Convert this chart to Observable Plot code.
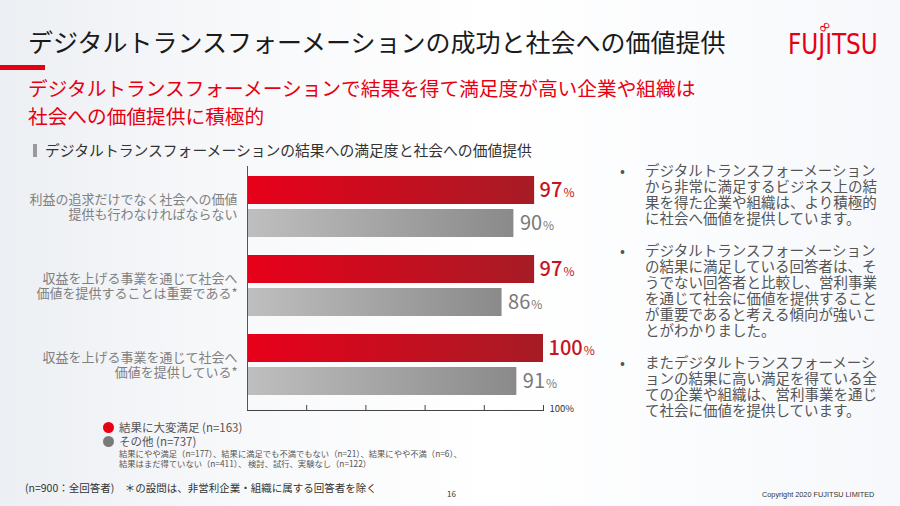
<!DOCTYPE html>
<html lang="ja">
<head>
<meta charset="utf-8">
<script src="https://cdn.jsdelivr.net/npm/d3@7"></script>
<script src="https://cdn.jsdelivr.net/npm/@observablehq/plot@0.6"></script>
<style>
  html, body { margin: 0; padding: 0; }
  body { width: 900px; height: 506px; overflow: hidden; font-family: "Noto Sans CJK JP", "Noto Sans", sans-serif; }
  #slide { position: relative; width: 900px; height: 506px; overflow: hidden;
    background: linear-gradient(90deg, #eceff3 0%, #f7f8fa 25%, #ffffff 55%, #f6f8fb 100%); }
  .abs { position: absolute; white-space: nowrap; }
  #title { left: 28px; top: 29px; font-size: 25px; line-height: 25px; color: #1a1a1a; }
  #redline { left: 0; top: 65px; width: 45px; height: 5px; background: #e60012; }
  #sub { left: 28px; top: 74px; font-size: 19.7px; line-height: 28px; color: #e60012; }
  #secbar { left: 33px; top: 144px; width: 4px; height: 13px; background: #9a9a9a; }
  #sec { left: 45px; top: 142px; font-size: 14.8px; line-height: 16px; color: #333; }
  #chart { left: 0; top: 160px; }
  .dot { width: 11px; height: 11px; border-radius: 50%; }
  .leg { font-size: 11.5px; line-height: 11px; color: #555; }
  .small { font-size: 8.3px; line-height: 10px; color: #555; }
  #foot { left: 25px; top: 482px; font-size: 10.5px; line-height: 12px; color: #333; }
  #page { left: 447px; top: 490px; font-size: 8px; line-height: 8px; color: #333; }
  #copy { left: 762px; top: 491px; font-family: "Liberation Sans", sans-serif; font-size: 7.3px; line-height: 8px; color: #333; }
  #bul { left: 620px; top: 162px; width: 270px; font-size: 14.5px; line-height: 16px; color: #555; }
  .para { position: relative; padding-left: 25px; margin-bottom: 16px; white-space: nowrap; }
  .para::before { content: "•"; position: absolute; left: 0; top: 0; color: #555; }
  #logo { left: 788px; top: 31px; font-family: "Liberation Sans Narrow", "DejaVu Sans Condensed", "Liberation Sans", sans-serif; font-size: 28px; line-height: 28px; color: #e60012; transform-origin: left top; transform: scaleX(0.92); }
  #inf { left: 818px; top: 19px; font-family: "DejaVu Sans", sans-serif; font-size: 16px; line-height: 16px; color: #e60012; transform: rotate(-40deg); }
</style>
</head>
<body>
<svg width="0" height="0" style="position:absolute">
  <defs>
    <linearGradient id="gRed" x1="0" x2="1" y1="0" y2="0">
      <stop offset="0" stop-color="#e8001a"/>
      <stop offset="1" stop-color="#a61c25"/>
    </linearGradient>
    <linearGradient id="gGrey" x1="0" x2="1" y1="0" y2="0">
      <stop offset="0" stop-color="#bfbfbf"/>
      <stop offset="1" stop-color="#8a8a8a"/>
    </linearGradient>
  </defs>
</svg>
<div id="slide">
  <div class="abs" id="title"></div>
  <div class="abs" id="redline"></div>
  <div class="abs" id="sub"></div>
  <div class="abs" id="secbar"></div>
  <div class="abs" id="sec"></div>
  <div class="abs" id="logo">FUJITSU</div>
  <div class="abs" id="inf">∞</div>
  <div class="abs" id="chart"></div>
  <div class="abs dot" style="left:103px;top:421.5px;background:#e60012"></div>
  <div class="abs leg" id="leg1" style="left:119px;top:421.5px"></div>
  <div class="abs dot" style="left:103px;top:435.5px;background:#7a7a7a"></div>
  <div class="abs leg" id="leg2" style="left:119px;top:435.5px"></div>
  <div class="abs small" id="detail" style="left:119px;top:448px"></div>
  <div class="abs" id="foot"></div>
  <div class="abs" id="page"></div>
  <div class="abs" id="copy"></div>
  <div class="abs" id="bul"></div>
</div>
<script>
// ---- Data ----
const slideTitle = "デジタルトランスフォーメーションの成功と社会への価値提供";
const subtitleLines = ["デジタルトランスフォーメーションで結果を得て満足度が高い企業や組織は", "社会への価値提供に積極的"];
const chartTitle = "デジタルトランスフォーメーションの結果への満足度と社会への価値提供";
const categories = [
  "利益の追求だけでなく社会への価値\n提供も行わなければならない",
  "収益を上げる事業を通じて社会へ\n価値を提供することは重要である*",
  "収益を上げる事業を通じて社会へ\n価値を提供している*"
];
const seriesNames = ["結果に大変満足", "その他"];
const seriesN = [163, 737];
const verySatisfied = [97, 97, 100];
const others = [90, 86, 91];
const xTicks = [0, 20, 40, 60, 80, 100];
const detailLines = [
  "結果にやや満足（n=177）、結果に満足でも不満でもない（n=21）、結果にやや不満（n=6）、",
  "結果はまだ得ていない（n=411）、 検討、試行、実験なし（n=122）"
];
const footnote = "(n=900：全回答者)　＊の設問は、非営利企業・組織に属する回答者を除く";
const pageNo = "16";
const copyright = "Copyright 2020 FUJITSU  LIMITED";
const bullets = [
  ["デジタルトランスフォーメーション", "から非常に満足するビジネス上の結", "果を得た企業や組織は、より積極的", "に社会へ価値を提供しています。"],
  ["デジタルトランスフォーメーション", "の結果に満足している回答者は、そ", "うでない回答者と比較し、営利事業", "を通じて社会に価値を提供すること", "が重要であると考える傾向が強いこ", "とがわかりました。"],
  ["またデジタルトランスフォーメーシ", "ョンの結果に高い満足を得ている全", "ての企業や組織は、営利事業を通じ", "て社会に価値を提供しています。"]
];

// ---- Text ----
document.getElementById("title").textContent = slideTitle;
document.getElementById("sub").innerHTML = subtitleLines.join("<br>");
document.getElementById("sec").textContent = chartTitle;
document.getElementById("leg1").textContent = `${seriesNames[0]} (n=${seriesN[0]})`;
document.getElementById("leg2").textContent = `${seriesNames[1]} (n=${seriesN[1]})`;
document.getElementById("detail").innerHTML = detailLines.join("<br>");
document.getElementById("foot").textContent = footnote;
document.getElementById("page").textContent = pageNo;
document.getElementById("copy").textContent = copyright;
document.getElementById("bul").innerHTML = bullets.map(p => `<div class="para">${p.join("<br>")}</div>`).join("");

// ---- Chart ----
const rows = categories.flatMap((c, i) => [
  {cat: c, series: seriesNames[0], v: verySatisfied[i], grad: "url(#gRed)"},
  {cat: c, series: seriesNames[1], v: others[i], grad: "url(#gGrey)"}
]);
const redRows = rows.filter(d => d.series === seriesNames[0]);
const greyRows = rows.filter(d => d.series === seriesNames[1]);

const W = 600, H = 265, mt = 6, mb = 14, ml = 247, mr = 57;
const frameH = H - mt - mb;
const bandH = 61, barH = 28;
const redLabel = "#c8141e", greyLabel = "#7a7a7a";

const plot = Plot.plot({
  width: W, height: H,
  marginTop: mt, marginBottom: mb, marginLeft: ml, marginRight: mr,
  style: {background: "transparent", fontFamily: "'Noto Sans CJK JP', sans-serif"},
  x: {domain: [0, 100], axis: null},
  y: {domain: categories, axis: null, paddingInner: 18 / 79, paddingOuter: 13 / 79, align: 0.385},
  color: {type: "identity"},
  marks: [
    Plot.barX(redRows, {x: "v", y: "cat", fill: "grad", insetBottom: bandH - barH}),
    Plot.barX(greyRows, {x: "v", y: "cat", fill: "grad", insetTop: bandH - barH}),
    Plot.ruleX([0], {stroke: "#555", strokeWidth: 1}),
    Plot.rect([0], {x1: 0, x2: 100, fill: "#444", insetTop: frameH - 1}),
    Plot.ruleX(xTicks.slice(1), {x: d => d, stroke: "#444", insetTop: frameH - 6}),
    Plot.text([xTicks[xTicks.length - 1]], {x: d => d, text: d => `${d}%`, frameAnchor: "bottom", dx: 6, textAnchor: "start", fontSize: 9.5, fill: "#333"}),
    Plot.text(categories, {y: d => d, text: d => d, frameAnchor: "left", dx: -10, textAnchor: "end", lineHeight: 1.17, fontSize: 13, fill: "#808080"}),
    Plot.text(redRows, {x: "v", y: "cat", text: d => `${d.v}%`, dx: 5, dy: -(bandH - barH) / 2, textAnchor: "start", fontSize: 20, fontWeight: 500, fill: redLabel}),
    Plot.text(greyRows, {x: "v", y: "cat", text: d => `${d.v}%`, dx: 6, dy: (bandH - barH) / 2, textAnchor: "start", fontSize: 20, fill: greyLabel})
  ]
});
document.getElementById("chart").appendChild(plot);

// smaller "%" sign in value labels
plot.querySelectorAll("g").forEach(g => {
  const f = (g.getAttribute("fill") || "").toLowerCase();
  if (f !== redLabel && f !== greyLabel) return;
  g.querySelectorAll("text").forEach(t => {
    const s = t.textContent;
    if (/^\d+%$/.test(s)) {
      t.textContent = s.slice(0, -1);
      const ts = document.createElementNS("http://www.w3.org/2000/svg", "tspan");
      ts.setAttribute("font-size", "12");
      ts.setAttribute("font-weight", "400");
      ts.setAttribute("dx", "1");
      ts.textContent = "%";
      t.appendChild(ts);
    }
  });
});
</script>
</body>
</html>
